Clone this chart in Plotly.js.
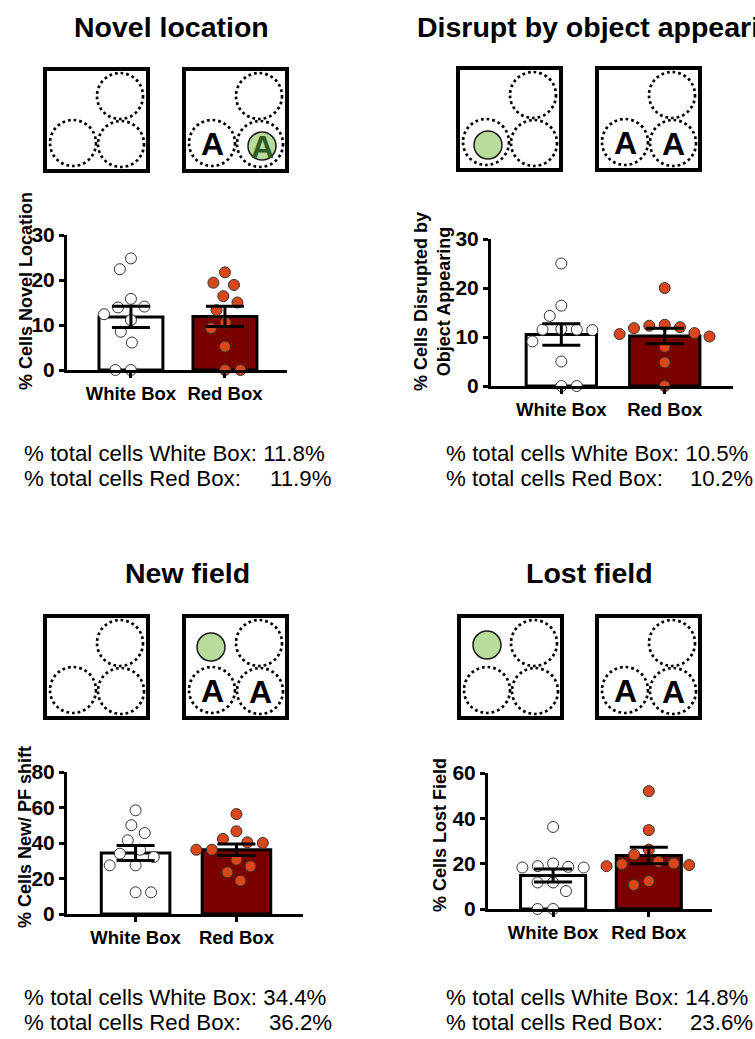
<!DOCTYPE html>
<html>
<head>
<meta charset="utf-8">
<script src="https://cdn.plot.ly/plotly-3.0.1.min.js"></script>
<style>
  html, body { margin: 0; padding: 0; background: #fff; }
  #chart { width: 755px; height: 1039px; }
</style>
</head>
<body>
<div id="chart"></div>
<script>
// ---------------- DATA ----------------
const categories = ['White Box', 'Red Box'];

const panelTitles = ['Novel location', 'Disrupt by object appearing', 'New field', 'Lost field'];
const yTitles = ['% Cells Novel Location', '% Cells Disrupted by<br>Object Appearing', '% Cells New/ PF shift', '% Cells Lost Field'];

const novelWhite = [24.8, 22.4, 15.8, 14.1, 13.9, 12.4, 11.1, 8.5, 6.1, 0, 0];
const novelRed   = [21.7, 19.4, 18.9, 16.4, 15.0, 13.3, 10.5, 9.3, 5.2, 0, 0];
const novelMean  = [11.8, 11.9];
const novelSem   = [2.35, 2.25];

const disruptWhite = [25.0, 16.4, 14.3, 11.6, 11.5, 11.5, 11.4, 9.1, 5.0, 0, 0];
const disruptRed   = [20.0, 12.5, 12.3, 12.0, 11.8, 10.8, 10.6, 10.1, 8.0, 4.8, 0];
const disruptMean  = [10.5, 10.2];
const disruptSem   = [2.2, 1.6];

const newWhite = [58.4, 50.0, 45.6, 41.5, 36.2, 34.0, 32.1, 27.4, 27.4, 12.2, 12.2];
const newRed   = [56.3, 46.6, 42.3, 40.4, 40.0, 36.2, 36.2, 30.6, 26.9, 23.5, 18.8];
const newMean  = [34.4, 36.2];
const newSem   = [4.2, 3.3];

const lostWhite = [36.2, 20.1, 18.9, 18.6, 18.3, 18.3, 11.7, 11.7, 7.9, 0, 0];
const lostRed   = [52.0, 34.8, 26.2, 24.0, 20.8, 20.1, 19.8, 19.4, 18.9, 12.3, 10.6];
const lostMean  = [14.8, 23.6];
const lostSem   = [2.9, 3.6];

const yMax   = [30, 30, 80, 60];
const yTicks = [[0, 10, 20, 30], [0, 10, 20, 30], [0, 20, 40, 60, 80], [0, 20, 40, 60]];

// ---------------- LAYOUT HELPERS ----------------
const W = 755, H = 1039;
const px = v => v / W;
const py = v => 1 - v / H;

const FONT = 'Liberation Sans, Arial, Helvetica, sans-serif';
const WHITE_FILL = '#ffffff';
const RED_BAR = '#7a0000';
const RED_DOT = '#d9471b';
const GREEN = '#b7dc9b';
const XRANGE = [-0.68, 1.66];
const BAR_W = 0.68;

// plot areas in pixels: [left, right, top(ymax), bottom(0)]
const areas = [
  [67, 287, 235, 370],
  [491, 733, 239, 386],
  [67, 303, 772, 914],
  [488, 712, 773, 909]
];

const panels = [
  {white: novelWhite, red: novelRed, mean: novelMean, sem: novelSem},
  {white: disruptWhite, red: disruptRed, mean: disruptMean, sem: disruptSem},
  {white: newWhite, red: newRed, mean: newMean, sem: newSem},
  {white: lostWhite, red: lostRed, mean: lostMean, sem: lostSem}
];

// beeswarm placement computed from values (pixel-space collision)
function swarm(values, center, pxPerX, pxPerY, D) {
  const idx = values.map((v, i) => i).sort((a, b) => values[b] - values[a]);
  const placed = [];
  const out = new Array(values.length);
  let flip = 1;
  idx.forEach(i => {
    const y = values[i] * pxPerY;
    const cands = [0];
    placed.forEach(p => {
      const dy = Math.abs(p.y - y);
      if (dy < D) {
        const dx = Math.sqrt(D * D - dy * dy);
        cands.push(p.x + dx, p.x - dx);
      }
    });
    const ok = cands.filter(c => placed.every(p => {
      const dx = p.x - c, dy = p.y - y;
      return dx * dx + dy * dy >= D * D - 0.01;
    }));
    ok.sort((a, b) => Math.abs(a) - Math.abs(b) || (a - b) * flip);
    const x = ok[0];
    if (x !== 0) flip = -flip;
    placed.push({x, y});
    out[i] = center + x / pxPerX;
  });
  return out;
}

const data = [];
const layout = {
  width: W, height: H,
  margin: {l: 0, r: 0, t: 0, b: 0},
  paper_bgcolor: '#fff', plot_bgcolor: 'rgba(0,0,0,0)',
  showlegend: false,
  shapes: [], annotations: [],
  font: {family: FONT, color: '#000'}
};

panels.forEach((p, k) => {
  const n = k === 0 ? '' : String(k + 1);
  const [l, r, t, b] = areas[k];
  const pxPerX = (r - l) / (XRANGE[1] - XRANGE[0]);
  const pxPerY = (b - t) / yMax[k];
  const xa = 'x' + n, ya = 'y' + n;

  layout['xaxis' + n] = {
    domain: [px(l), px(r)], anchor: ya, range: XRANGE,
    tickvals: [0, 1], ticktext: categories,
    ticks: 'outside', ticklen: 5, tickwidth: 3, tickcolor: '#000',
    showline: true, linewidth: 3, linecolor: '#000',
    showgrid: false, zeroline: false, fixedrange: true,
    tickfont: {family: FONT, size: 18.5, weight: 'bold', color: '#000'}
  };
  layout['yaxis' + n] = {
    domain: [py(b), py(t)], anchor: xa, range: [0, yMax[k]],
    tickvals: yTicks[k],
    ticks: 'outside', ticklen: 5, tickwidth: 3, tickcolor: '#000',
    showline: true, linewidth: 3, linecolor: '#000',
    showgrid: false, zeroline: false, fixedrange: true,
    tickfont: {family: FONT, size: 21, weight: 'bold', color: '#000'}
  };

  data.push({
    type: 'bar', x: [0, 1], y: p.mean, width: BAR_W, xaxis: xa, yaxis: ya,
    marker: {color: [WHITE_FILL, RED_BAR], line: {color: '#000', width: 3}},
    hoverinfo: 'skip'
  });
  data.push({
    type: 'scatter', mode: 'markers', xaxis: xa, yaxis: ya, cliponaxis: false,
    x: swarm(p.white, 0, pxPerX, pxPerY, 15.5), y: p.white,
    marker: {size: 11, color: WHITE_FILL, line: {color: '#333', width: 1}}
  });
  data.push({
    type: 'scatter', mode: 'markers', xaxis: xa, yaxis: ya, cliponaxis: false,
    x: swarm(p.red, 1, pxPerX, pxPerY, 15.5), y: p.red,
    marker: {size: 11, color: RED_DOT, line: {color: '#333', width: 1}}
  });
  data.push({
    type: 'scatter', mode: 'markers', xaxis: xa, yaxis: ya, cliponaxis: false,
    x: [0, 1], y: p.mean,
    marker: {size: 1, color: 'rgba(0,0,0,0)'},
    error_y: {type: 'data', array: p.sem, visible: true, color: '#000', thickness: 3, width: 19}
  });
});

// ---------------- TITLES / LABELS ----------------
const A = layout.annotations;
const ann = (x, y, text, opts) => { A.push(Object.assign({
  xref: 'paper', yref: 'paper', x: px(x), y: py(y), text, showarrow: false,
  xanchor: 'center', yanchor: 'middle',
  font: {family: FONT, size: 28.5, weight: 'bold', color: '#000'}
}, opts || {})); return A.length - 1; };

ann(171, 27, '<b>' + panelTitles[0] + '</b>');
ann(415, 27, '<b>' + panelTitles[1] + '</b>', {xanchor: 'left'});
ann(187, 573, '<b>' + panelTitles[2] + '</b>');
ann(589, 573, '<b>' + panelTitles[3] + '</b>');

const ytPos = [[26, 291], [432, 302], [25, 837], [440, 835]];
yTitles.forEach((t, k) => ann(ytPos[k][0], ytPos[k][1], '<b>' + t + '</b>',
  {textangle: -90, font: {family: FONT, size: 18, weight: 'bold', color: '#000'}}));

// summary text (slightly condensed after render)
const NFONT = {family: FONT, size: 23, color: '#000'};
const condensed = [];
const sumPos = [[22, 334, 453, 478], [444, 755, 453, 478], [22, 334, 997, 1022], [444, 755, 997, 1022]];
panels.forEach((p, k) => {
  const [x0, x1, y0, y1] = sumPos[k];
  condensed.push([ann(x0, y0, '% total cells White Box: ' + p.mean[0].toFixed(1) + '%', {xanchor: 'left', font: NFONT}), 'left']);
  condensed.push([ann(x0, y1, '% total cells Red Box:', {xanchor: 'left', font: NFONT}), 'left']);
  condensed.push([ann(x1, y1, p.mean[1].toFixed(1) + '%', {xanchor: 'right', font: NFONT}), 'right']);
});

// ---------------- SCHEMATIC ARENAS ----------------
const S = layout.shapes;
const BOX = 103;
const CIRC = {TR: [75, 27], BL: [28, 74], BR: [76, 75]};
const R = 23, RG = 14;
function circle(cx, cy, r, line, fill) {
  S.push({type: 'circle', xref: 'paper', yref: 'paper',
    x0: px(cx - r), x1: px(cx + r), y0: py(cy + r), y1: py(cy - r),
    line, fillcolor: fill || 'rgba(0,0,0,0)'});
}
const boxes = [
  [45, 69, null, []],
  [184, 69, {pos: [78, 77], letter: true}, ['BL']],
  [458, 68, {pos: [30, 77]}, []],
  [597, 68, null, ['BL', 'BR']],
  [45, 616, null, []],
  [184, 616, {pos: [27, 31]}, ['BL', 'BR']],
  [459, 616, {pos: [28, 29]}, []],
  [597, 616, null, ['BL', 'BR']]
];
const LETTER = 32;
boxes.forEach(([bx, by, green, letters]) => {
  S.push({type: 'rect', xref: 'paper', yref: 'paper',
    x0: px(bx), x1: px(bx + BOX), y0: py(by + BOX - 1), y1: py(by),
    line: {color: '#000', width: 4}, fillcolor: '#fff'});
  Object.values(CIRC).forEach(([cx, cy]) =>
    circle(bx + cx, by + cy, R, {color: '#000', width: 2.7, dash: '2.7px,3px'}));
  if (green) {
    circle(bx + green.pos[0], by + green.pos[1], RG, {color: '#1a1a1a', width: 1.5}, GREEN);
    if (green.letter) ann(bx + green.pos[0], by + green.pos[1] + 1, '<b>A</b>',
      {font: {family: FONT, size: LETTER, weight: 'bold', color: '#2f5a22'}});
  }
  letters.forEach(key => {
    const [cx, cy] = CIRC[key];
    ann(bx + cx, by + cy + 1, '<b>A</b>', {font: {family: FONT, size: LETTER, weight: 'bold', color: '#000'}});
  });
});

Plotly.newPlot('chart', data, layout, {staticPlot: true, displayModeBar: false}).then(() => {
  const groups = Array.from(document.querySelectorAll('#chart g.annotation'));
  condensed.forEach(([i, side]) => {
    const g = groups.find(el => el.getAttribute('data-index') === String(i));
    if (!g) return;
    const t = g.querySelector('text');
    t.style.transformBox = 'fill-box';
    t.style.transformOrigin = side === 'left' ? '0% 50%' : '100% 50%';
    t.style.transform = 'scaleX(0.97)';
  });
});
</script>
</body>
</html>
